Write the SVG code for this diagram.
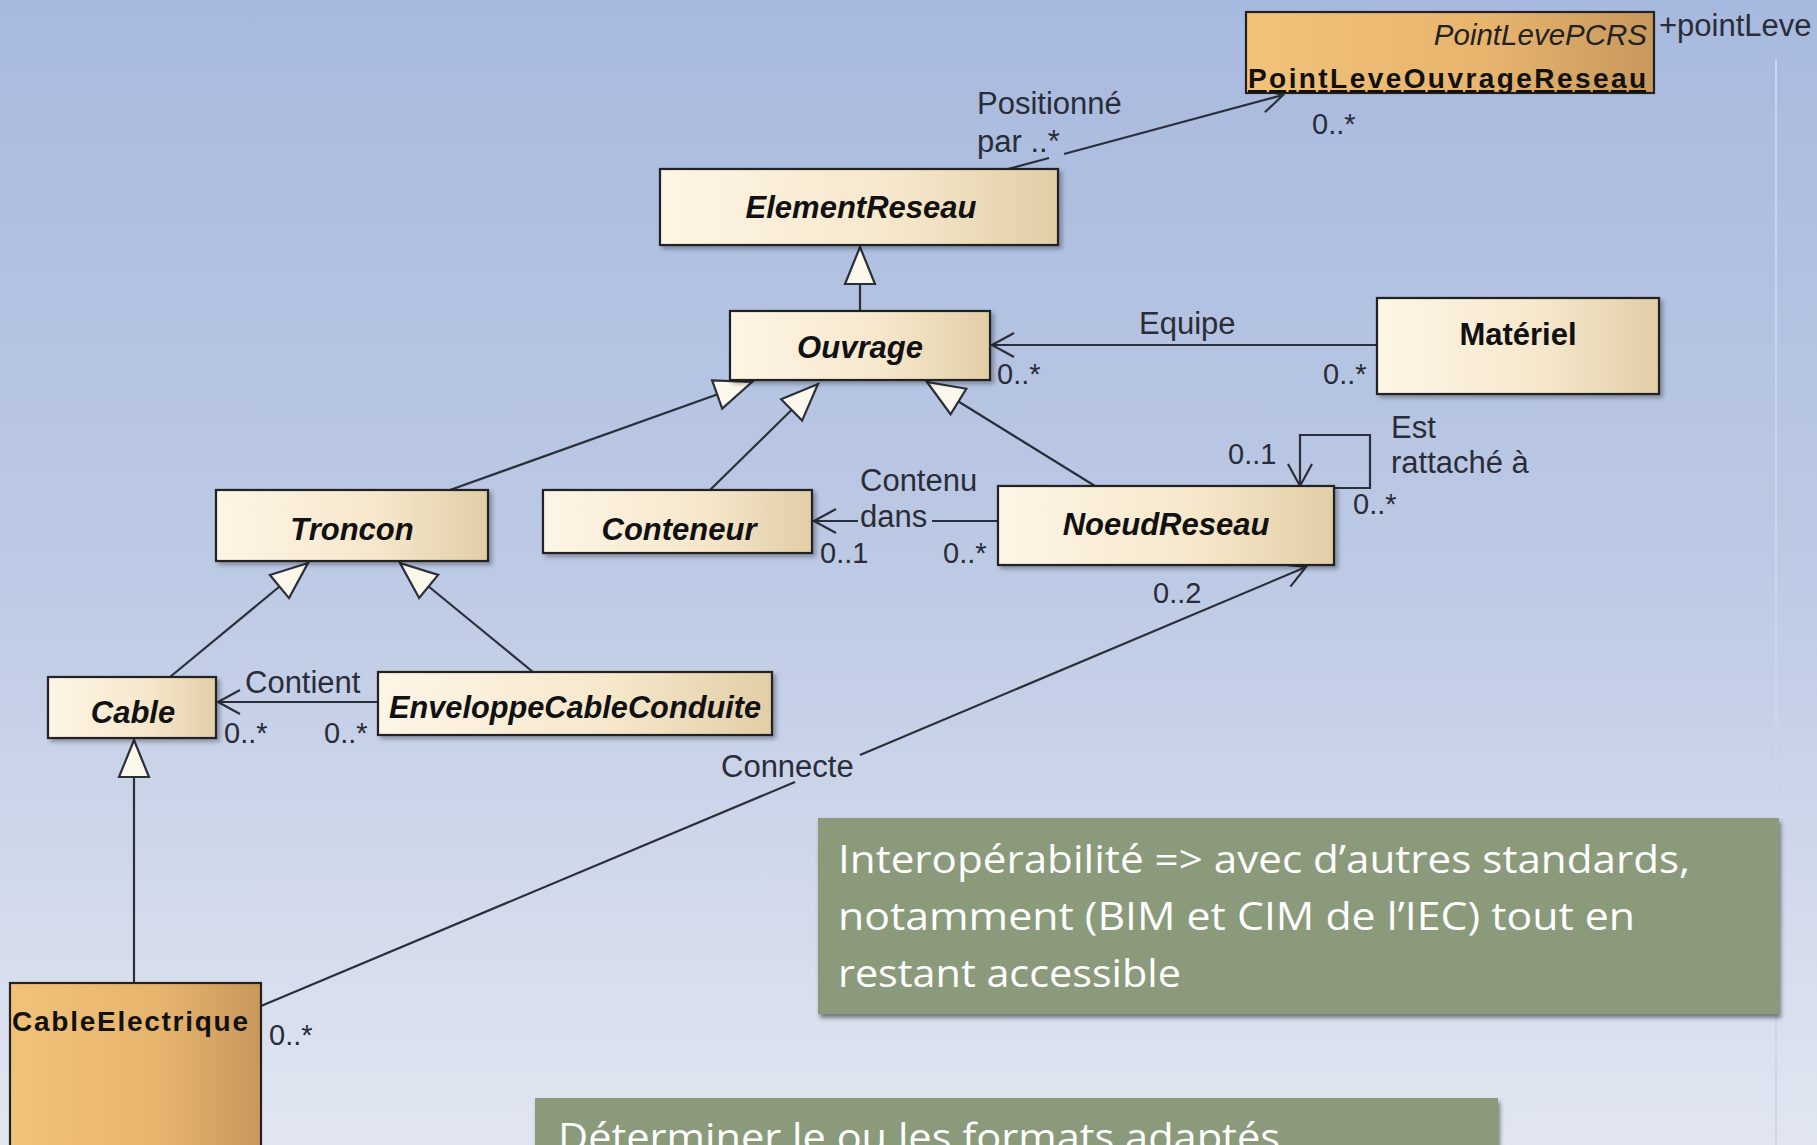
<svg xmlns="http://www.w3.org/2000/svg" width="1817" height="1145" viewBox="0 0 1817 1145">
<style>
.cls{font-family:"Liberation Sans",Arial,sans-serif;font-weight:bold;font-style:italic;font-size:31px;fill:#111;text-anchor:middle}
.upr{font-style:normal}
.box{fill:url(#cream);stroke:#222;stroke-width:2.2;filter:url(#sh)}
.obox{fill:url(#orange);stroke:#222;stroke-width:2.2}
.lbl{font-family:"Liberation Sans",Arial,sans-serif;font-size:31px;fill:#2a2d38}
.mul{font-family:"Liberation Sans",Arial,sans-serif;font-size:29px;fill:#2a2d38}
.ln{fill:none;stroke:#2b2f3a;stroke-width:2.2}
.note{fill:#8b9a7a;filter:url(#sh2)}
.nt{font-family:"Open Sans","Noto Sans",sans-serif;font-size:38px;fill:#ffffff}
</style>
<defs>
<linearGradient id="bg" x1="0" y1="0" x2="0" y2="1">
<stop offset="0" stop-color="#a7b9de"/>
<stop offset="0.5" stop-color="#bdcae5"/>
<stop offset="1" stop-color="#e1e6f0"/>
</linearGradient>
<linearGradient id="cream" x1="0" y1="0" x2="1" y2="0">
<stop offset="0" stop-color="#fdf5e6"/>
<stop offset="0.6" stop-color="#f6e7cb"/>
<stop offset="1" stop-color="#e2cea6"/>
</linearGradient>
<linearGradient id="orange" x1="0" y1="0" x2="1" y2="0">
<stop offset="0" stop-color="#f2c17a"/>
<stop offset="0.6" stop-color="#e6b46d"/>
<stop offset="1" stop-color="#c8985c"/>
</linearGradient>
<filter id="sh" x="-10%" y="-10%" width="130%" height="140%">
<feDropShadow dx="3" dy="3" stdDeviation="2" flood-color="#000" flood-opacity="0.3"/>
</filter>
<filter id="sh2" x="-5%" y="-5%" width="115%" height="120%">
<feDropShadow dx="2" dy="4" stdDeviation="2" flood-color="#333" flood-opacity="0.6"/>
</filter>
<marker id="open" markerUnits="userSpaceOnUse" markerWidth="26" markerHeight="26" refX="22" refY="12" orient="auto" overflow="visible">
<path d="M0,0 L22,12 L0,24" fill="none" stroke="#2b2f3a" stroke-width="2.2"/>
</marker>
<marker id="gen" markerUnits="userSpaceOnUse" markerWidth="40" markerHeight="34" refX="38" refY="16" orient="auto" overflow="visible">
<path d="M1,1 L38,16 L1,31 Z" fill="#fdf8ec" stroke="#2b2f3a" stroke-width="2.2"/>
</marker>
</defs>
<rect x="0" y="0" width="1817" height="1145" fill="url(#bg)"/>
<line x1="1776" y1="60" x2="1776" y2="1145" stroke="#cdd5e8" stroke-width="2"/>

<g id="connectors">
<path class="ln" d="M1008,169 L1049,158"/>
<path class="ln" d="M1064,154 L1283,95" marker-end="url(#open)"/>
<path class="ln" d="M860,311 V247" marker-end="url(#gen)"/>
<path class="ln" d="M450,490 L752,382" marker-end="url(#gen)"/>
<path class="ln" d="M710,490 L818,384" marker-end="url(#gen)"/>
<path class="ln" d="M1095,486 L927,382" marker-end="url(#gen)"/>
<path class="ln" d="M1377,345 H992" marker-end="url(#open)"/>
<path class="ln" d="M998,521 H932"/>
<path class="ln" d="M858,521 H814" marker-end="url(#open)"/>
<path class="ln" d="M1334,488 H1370 V435 H1300 V486" marker-end="url(#open)"/>
<path class="ln" d="M261,1006 L795,782"/>
<path class="ln" d="M860,755 L1306,567" marker-end="url(#open)"/>
<path class="ln" d="M378,702 H218" marker-end="url(#open)"/>
<path class="ln" d="M170,677 L308,563" marker-end="url(#gen)"/>
<path class="ln" d="M533,672 L400,563" marker-end="url(#gen)"/>
<path class="ln" d="M134,983 V740" marker-end="url(#gen)"/>
<text class="lbl" x="977" y="114">Positionné</text>
<text class="lbl" x="977" y="152">par ..*</text>
<text class="mul" x="1312" y="134">0..*</text>
<text class="lbl" x="1139" y="334">Equipe</text>
<text class="mul" x="997" y="384">0..*</text>
<text class="mul" x="1323" y="384">0..*</text>
<text class="lbl" x="860" y="491">Contenu</text>
<text class="lbl" x="860" y="527">dans</text>
<text class="mul" x="820" y="563">0..1</text>
<text class="mul" x="943" y="563">0..*</text>
<text class="mul" x="1228" y="464">0..1</text>
<text class="lbl" x="1391" y="438">Est</text>
<text class="lbl" x="1391" y="473">rattaché à</text>
<text class="mul" x="1353" y="514">0..*</text>
<text class="mul" x="1153" y="603">0..2</text>
<text class="lbl" x="721" y="777">Connecte</text>
<text class="mul" x="269" y="1045">0..*</text>
<text class="lbl" x="245" y="693">Contient</text>
<text class="mul" x="224" y="743">0..*</text>
<text class="mul" x="324" y="743">0..*</text>
</g>

<g id="PointLeveOuvrageReseau">
<rect class="obox" x="1246" y="12" width="408" height="81"/>
<text x="1647" y="45" font-family="Liberation Sans,Arial,sans-serif" font-style="italic" font-size="29.5" fill="#222" text-anchor="end">PointLevePCRS</text>
<text x="1248" y="88" font-family="Liberation Sans,Arial,sans-serif" font-weight="bold" font-size="28" fill="#111" text-decoration="underline" textLength="398" lengthAdjust="spacing">PointLeveOuvrageReseau</text>
<text x="1659" y="36" class="lbl" fill="#222">+pointLeve</text>
</g>
<g id="ElementReseau">
<rect class="box" x="660" y="169" width="398" height="76"/>
<text class="cls" x="861" y="218">ElementReseau</text>
</g>
<g id="Ouvrage">
<rect class="box" x="730" y="311" width="260" height="69"/>
<text class="cls" x="860" y="358">Ouvrage</text>
</g>
<g id="Materiel">
<rect class="box" x="1377" y="298" width="282" height="96"/>
<text class="cls upr" x="1518" y="345">Matériel</text>
</g>
<g id="Troncon">
<rect class="box" x="216" y="490" width="272" height="71"/>
<text class="cls" x="352" y="540">Troncon</text>
</g>
<g id="Conteneur">
<rect class="box" x="543" y="490" width="269" height="63"/>
<text class="cls" x="679" y="540">Conteneur</text>
</g>
<g id="NoeudReseau">
<rect class="box" x="998" y="486" width="336" height="79"/>
<text class="cls" x="1166" y="535">NoeudReseau</text>
</g>
<g id="Cable">
<rect class="box" x="48" y="677" width="168" height="61"/>
<text class="cls" x="133" y="723">Cable</text>
</g>
<g id="EnveloppeCableConduite">
<rect class="box" x="378" y="672" width="394" height="63"/>
<text class="cls" x="575" y="718" textLength="372" lengthAdjust="spacingAndGlyphs">EnveloppeCableConduite</text>
</g>
<g id="CableElectrique">
<rect class="obox" x="10" y="983" width="251" height="175"/>
<text x="12" y="1031" font-family="Liberation Sans,Arial,sans-serif" font-weight="bold" font-size="28" fill="#111" textLength="236" lengthAdjust="spacing">CableElectrique</text>
</g>

<g id="note1">
<rect class="note" x="818" y="818" width="961" height="196"/>
<text class="nt" x="838" y="873" textLength="852" lengthAdjust="spacingAndGlyphs">Interopérabilité =&gt; avec d’autres  standards,</text>
<text class="nt" x="838" y="930" textLength="797" lengthAdjust="spacingAndGlyphs">notamment (BIM et CIM de l’IEC) tout en</text>
<text class="nt" x="838" y="987" textLength="343" lengthAdjust="spacingAndGlyphs">restant accessible</text>
</g>
<g id="note2">
<rect class="note" x="535" y="1098" width="963" height="60"/>
<text class="nt" x="558" y="1151" textLength="722" lengthAdjust="spacingAndGlyphs">Déterminer le ou les formats adaptés</text>
</g>
</svg>
